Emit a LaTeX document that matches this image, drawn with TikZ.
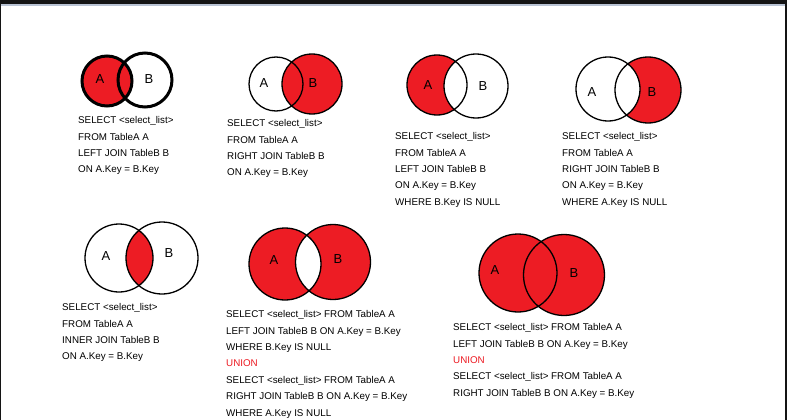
\documentclass[tikz,border=0pt]{standalone}
\usepackage{fontspec}
\setmainfont{Liberation Sans}
\usepackage{xcolor}
\definecolor{joinred}{HTML}{ED1C24}
\definecolor{framedark}{HTML}{141414}
\definecolor{framebar}{HTML}{B9C3D4}
\usetikzlibrary{positioning}

\begin{document}
\begin{tikzpicture}[
  x=1pt, y=-1pt,
  venn/.style={draw=black, line width=1.3pt},
  vennthick/.style={draw=black, line width=3pt},
  setlabel/.style={font=\fontsize{13}{13}\selectfont, inner sep=0pt},
  sqltext/.style={anchor=north west, align=left, inner sep=0pt,
                  font=\fontsize{9.8}{16.4}\selectfont},
]
  \useasboundingbox (0,0) rectangle (787,420);
  \fill[white] (0,0) rectangle (787,420);
  \fill[framedark] (0,0) rectangle (787,4.5);
  \fill[framebar] (0,4.5) rectangle (785,6.5);
  \fill[framedark] (785,0) rectangle (787,420);
  \fill[framedark] (0,0) rectangle (1,420);

  % left join
  \coordinate (a1) at (107,81);
  \coordinate (b1) at (145,80);
  \fill[joinred] (a1) circle[radius=25];
  \draw[vennthick] (a1) circle[radius=25];
  \draw[vennthick] (b1) circle[radius=27];
  \node[setlabel] (la1) at (100,79) {A};
  \node[setlabel] (lb1) at (149,79) {B};
  \node[sqltext] (sql1) at (78,116.3) {SELECT <select\_list>\\FROM TableA A\\LEFT JOIN TableB B\\ON A.Key = B.Key};

  % right join
  \coordinate (a2) at (276,84);
  \coordinate (b2) at (312,84);
  \fill[joinred] (b2) circle[radius=30];
  \draw[venn] (a2) circle[radius=27];
  \draw[venn] (b2) circle[radius=30];
  \node[setlabel] (la2) at (264,83) {A};
  \node[setlabel] (lb2) at (313,83) {B};
  \node[sqltext] (sql2) at (227,119.3) {SELECT <select\_list>\\FROM TableA A\\RIGHT JOIN TableB B\\ON A.Key = B.Key};

  % left join, only A
  \coordinate (a3) at (437,85);
  \coordinate (b3) at (476,86);
  \begin{scope}
    \clip (a3) circle[radius=30];
    \fill[joinred] (a3) circle[radius=30];
    \fill[white] (b3) circle[radius=32];
  \end{scope}
  \draw[venn] (a3) circle[radius=30];
  \draw[venn] (b3) circle[radius=32];
  \node[setlabel] (la3) at (428,85) {A};
  \node[setlabel] (lb3) at (483,86) {B};
  \node[sqltext] (sql3) at (395,132.3) {SELECT <select\_list>\\FROM TableA A\\LEFT JOIN TableB B\\ON A.Key = B.Key\\WHERE B.Key IS NULL};

  % right join, only B
  \coordinate (a4) at (608,89);
  \coordinate (b4) at (648,90);
  \begin{scope}
    \clip (b4) circle[radius=33];
    \fill[joinred] (b4) circle[radius=33];
    \fill[white] (a4) circle[radius=32];
  \end{scope}
  \draw[venn] (a4) circle[radius=32];
  \draw[venn] (b4) circle[radius=33];
  \node[setlabel] (la4) at (592,92) {A};
  \node[setlabel] (lb4) at (652,92) {B};
  \node[sqltext] (sql4) at (562,132.3) {SELECT <select\_list>\\FROM TableA A\\RIGHT JOIN TableB B\\ON A.Key = B.Key\\WHERE A.Key IS NULL};

  % inner join
  \coordinate (a5) at (119,258);
  \coordinate (b5) at (162,258);
  \begin{scope}
    \clip (a5) circle[radius=34];
    \fill[joinred] (b5) circle[radius=36];
  \end{scope}
  \draw[venn] (a5) circle[radius=34];
  \draw[venn] (b5) circle[radius=36];
  \node[setlabel] (la5) at (106,256) {A};
  \node[setlabel] (lb5) at (169,253) {B};
  \node[sqltext] (sql5) at (62,303.3) {SELECT <select\_list>\\FROM TableA A\\INNER JOIN TableB B\\ON A.Key = B.Key};

  % outer join without intersection
  \coordinate (a6) at (285,264);
  \coordinate (b6) at (333,262);
  \fill[joinred, even odd rule] (a6) circle[radius=36] (b6) circle[radius=37.5];
  \draw[venn] (a6) circle[radius=36];
  \draw[venn] (b6) circle[radius=37.5];
  \node[setlabel] (la6) at (274,260) {A};
  \node[setlabel] (lb6) at (338,259) {B};
  \node[sqltext] (sql6) at (226,310.3) {SELECT <select\_list> FROM TableA A\\LEFT JOIN TableB B ON A.Key = B.Key\\WHERE B.Key IS NULL\\\textcolor{joinred}{UNION}\\SELECT <select\_list> FROM TableA A\\RIGHT JOIN TableB B ON A.Key = B.Key\\WHERE A.Key IS NULL};

  % full outer join
  \coordinate (a7) at (518,273);
  \coordinate (b7) at (564,275);
  \fill[joinred] (a7) circle[radius=39];
  \fill[joinred] (b7) circle[radius=40.5];
  \draw[venn] (a7) circle[radius=39];
  \draw[venn] (b7) circle[radius=40.5];
  \node[setlabel] (la7) at (495,270) {A};
  \node[setlabel] (lb7) at (574,273) {B};
  \node[sqltext] (sql7) at (453,323.3) {SELECT <select\_list> FROM TableA A\\LEFT JOIN TableB B ON A.Key = B.Key\\\textcolor{joinred}{UNION}\\SELECT <select\_list> FROM TableA A\\RIGHT JOIN TableB B ON A.Key = B.Key};
\end{tikzpicture}
\end{document}
